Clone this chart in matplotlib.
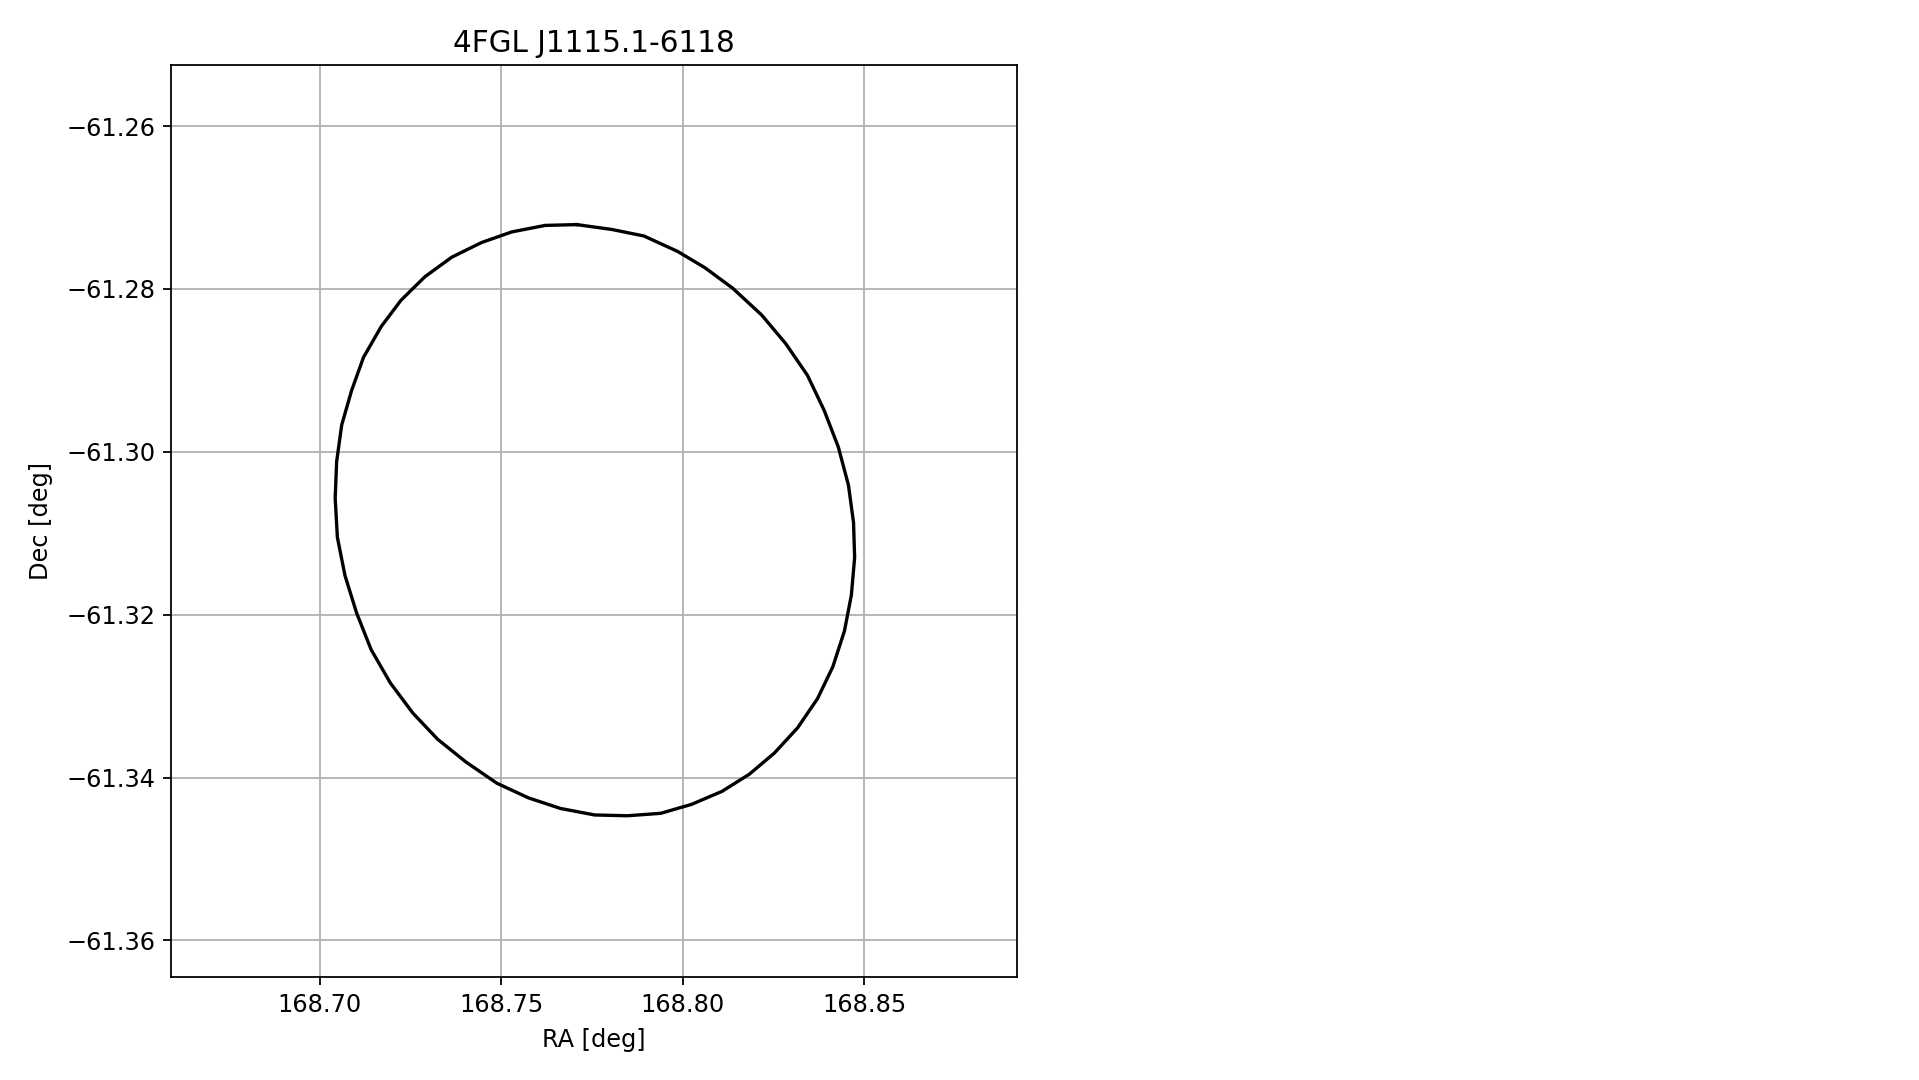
import matplotlib
import matplotlib.pyplot as plt

matplotlib.use('Agg')

# контур 95% області локалізації джерела (вершини)
source_name = '4FGL J1115.1-6118'
ra = [168.7708, 168.7805, 168.7893, 168.7986, 168.8061, 168.8137, 168.8217,
      168.8283, 168.8343, 168.8389, 168.8428, 168.8456, 168.8470, 168.8473,
      168.8464, 168.8445, 168.8413, 168.8371, 168.8316, 168.8252, 168.8183,
      168.8108, 168.8024, 168.7939, 168.7847, 168.7757, 168.7663, 168.7575,
      168.7488, 168.7403, 168.7325, 168.7257, 168.7195, 168.7142, 168.7102,
      168.7070, 168.7049, 168.7043, 168.7047, 168.7061, 168.7088, 168.7121,
      168.7170, 168.7224, 168.7290, 168.7364, 168.7446, 168.7529, 168.7621,
      168.7708]
dec = [-61.2721, -61.2727, -61.2735, -61.2754, -61.2774, -61.2799, -61.2832,
       -61.2867, -61.2906, -61.2949, -61.2994, -61.3041, -61.3087, -61.3130,
       -61.3176, -61.3220, -61.3264, -61.3303, -61.3339, -61.3370, -61.3396,
       -61.3417, -61.3433, -61.3444, -61.3447, -61.3446, -61.3438, -61.3425,
       -61.3407, -61.3381, -61.3353, -61.3321, -61.3284, -61.3243, -61.3198,
       -61.3152, -61.3105, -61.3057, -61.3012, -61.2967, -61.2925, -61.2884,
       -61.2846, -61.2814, -61.2785, -61.2761, -61.2743, -61.2730, -61.2722,
       -61.2721]

ra_lim = (168.6591, 168.8920)
dec_lim = (-61.3645, -61.2525)
ra_ticks = [168.70, 168.75, 168.80, 168.85]
dec_ticks = [-61.26, -61.28, -61.30, -61.32, -61.34, -61.36]

fig = plt.figure(figsize=(1919 / 160, 1080 / 160), dpi=160)
ax = fig.add_axes([171 / 1919, 103 / 1080, 846 / 1919, 912 / 1080])

ax.plot(ra, dec, color='black', linewidth=1.5)

ax.set_xlim(*ra_lim)
ax.set_ylim(*dec_lim)
ax.set_xticks(ra_ticks)
ax.set_yticks(dec_ticks)
ax.tick_params(labelsize=10.8)
ax.grid(True)

ax.set_title(source_name, fontsize=13.3)
ax.set_xlabel('RA [deg]', fontsize=10.8, labelpad=5)
ax.set_ylabel('Dec [deg]', fontsize=10.8, labelpad=6)

plt.savefig('out.png', dpi=160)
plt.close()
